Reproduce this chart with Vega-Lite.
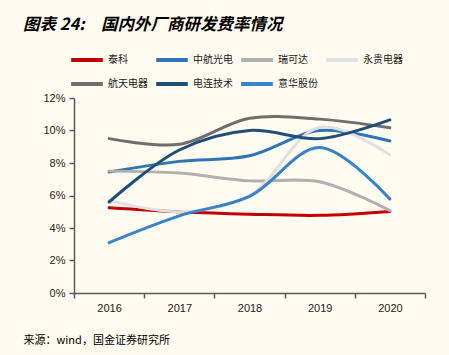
{
  "$schema": "https://vega.github.io/schema/vega-lite/v6.json",
  "width": 351,
  "height": 195,
  "autosize": {"type": "none"},
  "padding": {"left": 74, "top": 98, "right": 24, "bottom": 62},
  "background": "#fffbf0",
  "title": {
    "text": "图表 24:　国内外厂商研发费率情况",
    "anchor": "start",
    "frame": "group",
    "dx": -51,
    "offset": 12,
    "font": "Noto Sans CJK SC",
    "fontSize": 16.5,
    "fontStyle": "italic",
    "fontWeight": "bold",
    "color": "#000000"
  },
  "config": {
    "view": {"stroke": null},
    "font": "Liberation Sans"
  },
  "data": {
    "values": [
      {"company": "泰科", "year": "2016", "rate": 0.0525},
      {"company": "泰科", "year": "2017", "rate": 0.0500},
      {"company": "泰科", "year": "2018", "rate": 0.0485},
      {"company": "泰科", "year": "2019", "rate": 0.0478},
      {"company": "泰科", "year": "2020", "rate": 0.0502},
      {"company": "中航光电", "year": "2016", "rate": 0.0745},
      {"company": "中航光电", "year": "2017", "rate": 0.0810},
      {"company": "中航光电", "year": "2018", "rate": 0.0845},
      {"company": "中航光电", "year": "2019", "rate": 0.1000},
      {"company": "中航光电", "year": "2020", "rate": 0.0935},
      {"company": "瑞可达", "year": "2016", "rate": 0.0750},
      {"company": "瑞可达", "year": "2017", "rate": 0.0738},
      {"company": "瑞可达", "year": "2018", "rate": 0.0690},
      {"company": "瑞可达", "year": "2019", "rate": 0.0685},
      {"company": "瑞可达", "year": "2020", "rate": 0.0507},
      {"company": "永贵电器", "year": "2016", "rate": 0.0570},
      {"company": "永贵电器", "year": "2017", "rate": 0.0500},
      {"company": "永贵电器", "year": "2018", "rate": 0.0600},
      {"company": "永贵电器", "year": "2019", "rate": 0.1020},
      {"company": "永贵电器", "year": "2020", "rate": 0.0850},
      {"company": "航天电器", "year": "2016", "rate": 0.0950},
      {"company": "航天电器", "year": "2017", "rate": 0.0915},
      {"company": "航天电器", "year": "2018", "rate": 0.1075},
      {"company": "航天电器", "year": "2019", "rate": 0.1070},
      {"company": "航天电器", "year": "2020", "rate": 0.1017},
      {"company": "电连技术", "year": "2016", "rate": 0.0560},
      {"company": "电连技术", "year": "2017", "rate": 0.0880},
      {"company": "电连技术", "year": "2018", "rate": 0.1000},
      {"company": "电连技术", "year": "2019", "rate": 0.0950},
      {"company": "电连技术", "year": "2020", "rate": 0.1065},
      {"company": "意华股份", "year": "2016", "rate": 0.0310},
      {"company": "意华股份", "year": "2017", "rate": 0.0475},
      {"company": "意华股份", "year": "2018", "rate": 0.0595},
      {"company": "意华股份", "year": "2019", "rate": 0.0895},
      {"company": "意华股份", "year": "2020", "rate": 0.0578}
    ]
  },
  "mark": {"type": "line", "interpolate": "catmull-rom", "strokeWidth": 3, "strokeCap": "round"},
  "encoding": {
    "x": {
      "field": "year",
      "type": "ordinal",
      "bandPosition": 0.5,
      "scale": {"type": "band", "paddingInner": 0, "paddingOuter": 0},
      "axis": {
        "title": "来源：wind，国金证券研究所",
        "titleFont": "Noto Sans CJK SC",
        "titleFontSize": 11,
        "titleFontWeight": "normal",
        "titleColor": "#000000",
        "titleAnchor": "start",
        "titleAlign": "left",
        "titleBaseline": "alphabetic",
        "titleX": -51,
        "titleY": 50,
        "labelAngle": 0,
        "labelFontSize": 11,
        "labelColor": "#222222",
        "labelPadding": 4,
        "tickBand": "extent",
        "tickSize": 5,
        "tickColor": "#595959",
        "domainColor": "#595959",
        "domainWidth": 1.5,
        "tickWidth": 1.5
      }
    },
    "y": {
      "field": "rate",
      "type": "quantitative",
      "scale": {"domain": [0, 0.12]},
      "axis": {
        "title": null,
        "values": [0, 0.02, 0.04, 0.06, 0.08, 0.1, 0.12],
        "format": ".0%",
        "grid": false,
        "labelFontSize": 11,
        "labelColor": "#222222",
        "labelPadding": 4,
        "tickSize": 5,
        "tickColor": "#595959",
        "domainColor": "#595959",
        "domainWidth": 1.5,
        "tickWidth": 1.5
      }
    },
    "color": {
      "field": "company",
      "type": "nominal",
      "sort": ["泰科", "中航光电", "瑞可达", "永贵电器", "航天电器", "电连技术", "意华股份"],
      "scale": {
        "domain": ["泰科", "中航光电", "瑞可达", "永贵电器", "航天电器", "电连技术", "意华股份"],
        "range": ["#c00000", "#2e75b6", "#b0b0b0", "#e0e0e0", "#6e6e6e", "#1f4e79", "#3a82c8"]
      },
      "legend": {
        "title": null,
        "orient": "none",
        "legendX": -2,
        "legendY": -53,
        "direction": "horizontal",
        "columns": 4,
        "gridAlign": "all",
        "symbolType": "M-1.25,0L1.25,0",
        "symbolSize": 640,
        "symbolStrokeWidth": 4,
        "labelFont": "Noto Sans CJK SC",
        "labelFontSize": 10,
        "labelColor": "#222222",
        "labelOffset": 6,
        "columnPadding": 0,
        "rowPadding": 1
      }
    },
    "order": {"field": "company"}
  }
}
